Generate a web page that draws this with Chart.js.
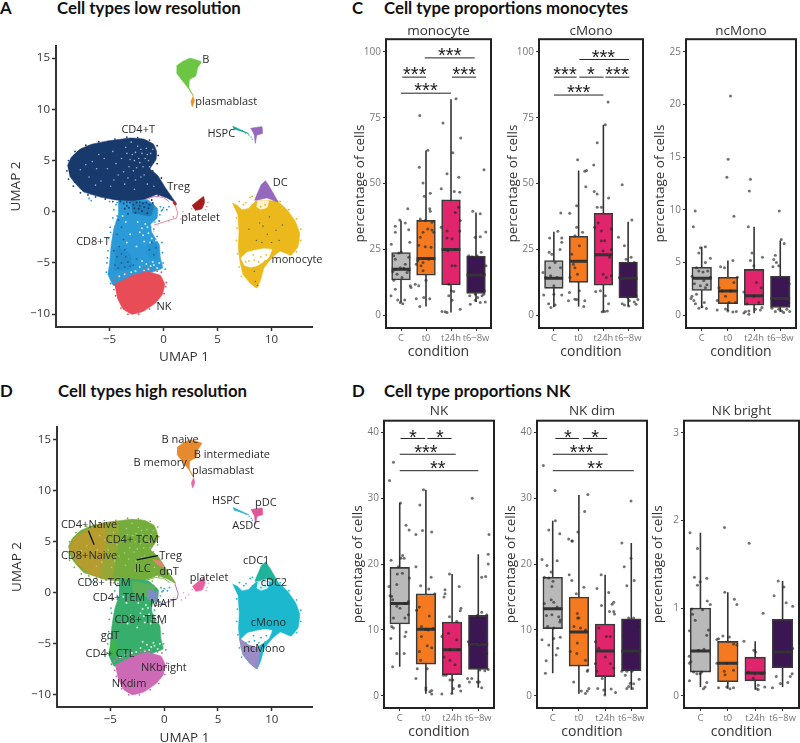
<!DOCTYPE html>
<html>
<head>
  <meta charset="utf-8">
  <title>Cell types</title>
  <script src="https://cdn.jsdelivr.net/npm/chart.js"></script>
  <style>
    html, body { margin: 0; background: #fff; overflow: hidden; width: 800px; height: 743px; }
    canvas { position: absolute; }
    .head { position: absolute; font-family: Lato, sans-serif; font-weight: 700; font-size: 16.8px; line-height: 22px; color: #111; white-space: nowrap; }
  </style>
</head>
<body>
  <div class="head" style="left:0;top:-3px">A</div>
  <div class="head" style="left:57px;top:-3px">Cell types low resolution</div>
  <div class="head" style="left:352px;top:-3px">C</div>
  <div class="head" style="left:384px;top:-3px">Cell type proportions monocytes</div>
  <div class="head" style="left:0;top:380px">D</div>
  <div class="head" style="left:58px;top:380px">Cell types high resolution</div>
  <div class="head" style="left:352px;top:380px">D</div>
  <div class="head" style="left:384px;top:380px">Cell type proportions NK</div>

  <script>
    // ---- data ----
    const conditions = ["C", "t0", "t24h", "t6−8w"];
    const boxColors = ["#b9b9b9", "#f57a1f", "#e0256d", "#3c1653"];
    const umapXTicks = [-5, 0, 5, 10];
    const umapYTicks = [-10, -5, 0, 5, 10, 15];

    // cluster outlines in UMAP units
    const cd4Outline = [[-8.9,4.5],[-8.55,5.3],[-7.75,6.1],[-6.64,6.6],[-5.25,6.9],[-3.09,7.2],[-1.85,7.1],[-0.93,6.6],[-0.65,5.9],[-0.7,5.1],[-1.25,4.2],[-0.55,3.55],[0.2,2.3],[1.08,0.93],[0.31,1.35],[-0.62,1.7],[-1.54,1.3],[-2.78,1.1],[-4.32,1.15],[-5.86,1.45],[-7.41,1.95],[-8.2,2.8],[-8.7,3.5]];
    const cd8Outline = [[-4.2,1.4],[-1.54,1.2],[-0.55,0.3],[-0.6,-0.6],[-1.2,-1.2],[-1.1,-2],[-0.4,-3.23],[-0.3,-4.5],[-0.1,-5.5],[-2.16,-6.3],[-4.63,-7.2],[-5.15,-6.1],[-5,-5.14],[-4.85,-3.23],[-4.6,-1.63],[-4.2,-0.35]];
    const cd8DarkA = [[-4.6,-5.7],[-3,-5.6],[-3.1,-4.1],[-4.4,-3.4]];
    const cd8DarkB = [[-3,1.1],[-0.9,0.7],[-1.2,-0.4],[-2.9,-0.1]];
    const cd8DarkC = [[-1.5,-3.2],[-0.6,-3],[-0.6,-4.6],[-1.4,-4.4]];
    const nkOutline = [[-4.55,-7.1],[-2.78,-6.2],[-1.54,-5.85],[-0.31,-6.2],[0.1,-7.06],[-0.1,-8.05],[-0.75,-8.9],[-1.85,-9.7],[-2.93,-10],[-3.75,-9.5],[-4.3,-8.4]];
    const monoOutline = [[6.35,0.85],[6.85,0.6],[7.25,0.2],[7.87,0.35],[8.58,1.05],[10.49,1.05],[11.42,0.2],[12.2,-0.95],[12.6,-2.1],[12.45,-3.4],[11.8,-4.25],[10.8,-3.85],[10.03,-4.5],[9.3,-5.46],[9,-6.58],[8.64,-7.45],[8,-6.95],[7.35,-6.1],[7.1,-4.98],[6.92,-3.55],[6.98,-1.95],[6.88,-0.35]];
    const monoHole = [[7.15,-4.55],[7.75,-3.95],[9.26,-3.6],[10,-3.7],[9.7,-4.5],[8.7,-5.25],[8,-5.4],[7.45,-5.2]];
    const dcGap = [[8.7,1.05],[9.7,1.05],[9.6,0.45],[9,0.25],[8.6,0.5]];
    const dcOutline = [[9.41,3.05],[9.75,2.55],[10.6,0.95],[9.57,1.35],[8.45,1.12],[8.85,2.2],[9.05,2.7]];
    const bOutline = [[1.2,14.25],[1.8,14.7],[2.47,15],[3.5,14.65],[3.15,14.05],[2.98,13.25],[2.4,12.9],[2.36,12.11],[2.75,11.31],[2.26,12.11],[1.65,12.91],[1.2,13.55]];
    const plasmaOutline = [[2.72,11.31],[2.85,10.83],[2.65,10.26],[2.52,10.83]];
    const pdcOutline = [[8.05,8.15],[9.1,8.3],[9.15,7.64],[8.64,7.48],[8.49,6.68],[8.4,7.45]];
    const hspcOutline = [[6.39,8.37],[7.1,8.02],[7.87,7.64],[7.1,7.9],[6.48,8.11]];
    const plateletOutline = [[2.62,0.61],[3.7,1.5],[3.8,0.93],[3.55,0.29],[2.93,0.13]];
    const tregTrail = [[-1.6,1.25],[-0.8,1.5],[0,1.4],[0.5,1]];
    const plateletTrail = [[1.0,0.9],[1.3,-0.1],[1.2,-0.6],[0,-1],[-0.9,-1.3]];
    const goldOutline = [[-8.85,4.3],[-8.4,5.3],[-7,6.25],[-5.6,6.75],[-5.4,5.2],[-5.6,3.8],[-6,1.6],[-6.9,1.85],[-8.1,2.85]];
    const oliveOutline = [[-5.7,6.8],[-4.3,7],[-4.2,5],[-4.5,3.4],[-4.8,1.25],[-6.1,1.5],[-5.7,3.8],[-5.5,5.2]];
    const ncMonoOutline = [[6.94,-4.41],[7.84,-5.1],[8.92,-5.5],[8.64,-7.45],[8,-6.95],[7.35,-6.1],[7.1,-5.2]];
    const maitOutline = [[-1.57,0.38],[-0.65,0.06],[-0.65,-0.89],[-1.57,-0.57]];
    const tregOutline = [[-1.1,3.26],[-0.34,3.1],[0,2.46],[-0.65,2.78]];
    const gdtOutline = [[-4.95,-4.6],[-4.4,-4.8],[-4.5,-6.3],[-5.1,-6]];

    // scattered cells
    const navySpeck = [[-6.6,4.9],[-6,5.6],[-5.2,4.2],[-4.7,5.9],[-4.2,3.6],[-3.9,5.2],[-3.5,6.3],[-3.2,4.4],[-2.9,5.6],[-2.6,3.1],[-2.4,6.4],[-2.2,4.8],[-2,5.7],[-1.8,3.6],[-1.6,6.2],[-1.4,5],[-1.2,5.7],[-2.7,2.2],[-3.6,2.7],[-4.9,2.5],[-5.8,3],[-6.9,3.4],[-7.7,4.1],[-3,6.8],[-1.9,4.4],[-1,6.1],[-2.3,5.2],[-3.4,5.7],[-4.4,4.7],[-5.5,5.2],[-2.8,4],[-1.3,4.4],[-3.7,3.9],[-2.1,3.4],[-2.5,4.3],[-2.7,5],[-3.1,5.1],[-1.7,5.2],[-1.5,5.6],[-2.1,6.1],[-2.6,5.8],[-3.3,3.3],[-1.5,2.7],[-0.9,2.5],[-4.6,3.1],[-6.3,2.6],[-7.2,4.6],[-6.2,4.2]];
    const navyFringe = [[-8.95,4],[-8.8,3.2],[-8.35,2.5],[-7.7,1.85],[-7,1.65],[-6.3,1.45],[-5.4,1.25],[-4.7,1],[-3.4,0.95],[-2.2,0.95],[-1.1,1.15],[-0.5,1.55],[-0.1,1.7],[-8.8,5],[-8.2,5.9],[-7.2,6.5],[-6,6.85],[-4.5,7.1],[-3.4,7.3],[-2.4,7.25],[-1.3,7],[-0.6,6.45],[-0.5,5.5],[-0.6,4.7],[-1,4],[-0.2,3.3]];
    const neckSpeck = [[-4,1],[-3.7,0.8],[-3.4,0.6],[-3.1,0.9],[-2.8,0.7],[-2.5,0.9],[-2.2,0.6],[-1.9,0.8],[-1.6,0.9],[-1.3,0.7],[-1,0.85],[-3.6,0.3],[-3.2,0.4],[-2.7,0.35],[-2.3,0.3],[-1.8,0.45],[-1.4,0.35],[-3.3,-0.2],[-2.6,-0.1],[-2,0.05],[-1.5,-0.15]];
    const cd8DarkSpeck = [[-4.5,-5.2],[-4.2,-5.5],[-3.9,-5],[-3.6,-5.4],[-3.3,-4.9],[-4.3,-4.4],[-3.9,-4.1],[-3.5,-4.4],[-3.1,-5.3],[-4.6,-3.8],[-4.1,-3.4],[-3.6,-3.7],[-1.3,-3.7],[-0.9,-4.2],[-0.7,-3.5],[-1.1,-3],[-4.3,-2.2],[-3.9,-1.5],[-4.2,-0.8],[-3.7,-2.7],[-2.8,-5.2],[-2.5,-4.6]];
    const cd8Speck = [[-2,-1.6],[-1.4,-2.1],[-1.1,-2.6],[-1.8,-2.9],[-0.9,-1.9],[-2.5,-3.4],[-3.5,-1],[-3.1,-2.2],[-1.2,-5.3],[-1.6,-5.1],[-0.9,-5.2],[-2,-4.8],[-3.4,-3],[-2.4,-1],[-0.7,-2.8],[-0.6,-5.5],[-2.2,-5.4],[-4.1,-6.3],[-3.6,-6.1],[-3,-5.9],[-1.7,-1.2],[-3.8,-0.4],[-0.5,-1.3],[-1.5,-1.5],[-1.9,-2.3],[-1.25,-3],[-2.2,-2],[-1,-4.9],[-1.4,-5.6],[-0.4,-5],[-1.8,-5.7],[-2.6,-5.8]];
    const cd8Fringe = [[-4.3,0.9],[-4.6,0.2],[-4.7,-0.6],[-4.95,-1.5],[-5.1,-2.6],[-5.15,-3.8],[-5.25,-5],[-5.3,-5.9],[-4.9,-7],[-0.3,0.5],[-0.35,-0.3],[-0.8,-1],[-0.9,-1.7],[-0.6,-2.4],[-0.15,-3],[-0.1,-4],[-0.05,-5],[0.15,-5.6],[-0.4,-0.9],[-0.2,0.1]];
    const fringeBlue = [[-6.9,1.3],[-6.7,1.1],[-5,1],[-4.4,0.7],[-4.3,-0.4],[-4.9,-2],[-5.2,-4.5],[0,0.4],[0.3,0.2],[-0.1,0.2],[-0.4,-0.9],[-1.2,-1.5],[0.5,0.5]];
    const fringeRed = [[-4.6,-6.7],[-4.4,-6.4],[-1.2,-5.6],[-0.6,-5.8],[-0.2,-5.9],[0.2,-7.3],[-4.6,-7.6],[-3.4,-6],[-2.8,-6.1],[-2.2,-5.8],[-4.45,-8.2],[-3.95,-9.4],[-3.3,-10],[-2.3,-10],[-1.3,-9.5],[-0.5,-8.9],[0.05,-8],[0.25,-6.9],[-3.9,-6.4],[-1.8,-5.6]];
    const monoSpeck = [[9.2,-1.4],[9.6,-2.2],[10.4,-1.8],[8.6,-2.8],[9.8,-0.5],[11,-1.3],[8.5,-6.8],[8.7,-7.2],[8.4,-5.8],[8.9,-1.1],[7.9,-1.7],[10.7,-2.8],[9.1,-3],[10,-3]];
    const monoFringe = [[7.6,0.9],[8,1.4],[8.2,0.7],[9,0.5],[9.4,0.7],[8.2,1.5],[7.9,-4.8],[8.4,-4.7],[9,-4.4],[7.6,-4.9],[9.5,-4.2],[8.8,-4.9],[6.75,-0.6],[6.8,-1.6],[6.75,-2.8],[6.85,-4.1],[7,-5.4],[7.2,-6.3],[12.7,-1.7],[12.7,-2.8],[12.3,-3.9],[12.3,-0.7],[11.6,0.2],[10.8,1],[7.4,0.7],[7,1],[9.4,-4.8],[8.3,-4.2]];
    const hspcTrail = [[7.3,7.9],[7.6,7.7],[7.9,7.5],[8.1,7.3],[8.2,7.1]];
    const plateletSpeck = [[1.6,-0.7],[2,-0.5],[2.3,-0.2],[1.8,0],[2.6,0.3],[0.9,-0.5],[0.5,-0.9],[4,0.5],[4.1,0.9],[3.9,0.2]];
    const tregKnot = [[1,0.9],[1.08,0.78]];

    const panelALabels = [["B",3.92,14.8],["plasmablast",5.8,10.73],["CD4+T",-2.35,8.05],["HSPC",5.34,7.57],["Treg",1.39,2.43],["DC",10.8,2.84],["platelet",3.43,-0.61],["CD8+T",-6.54,-2.97],["monocyte",12.35,-4.73],["NK",0.03,-9.3]];
    const panelDLabels = [["B naive",1.48,15.02],["B intermediate",6.3,13.48],["B memory",-0.37,12.68],["plasmablast",5.46,11.95],["HSPC",5.74,9.01],["pDC",9.44,8.79],["ASDC",7.62,6.55],["CD4+Naive",-6.98,6.65],["CD4+ TCM",-2.96,5.14],["CD8+Naive",-6.98,3.58],["Treg",0.59,3.58],["ILC",-1.98,2.36],["dnT",0.46,2.04],["platelet",4.17,1.47],["cDC1",8.55,3.16],["cDC2",10.2,0.93],["CD8+ TCM",-5.59,0.99],["CD4+ TEM",-4.2,-0.54],["MAIT",-0.09,-1.12],["CD8+ TEM",-2.19,-2.65],["cMono",9.69,-2.97],["gdT",-5.03,-4.25],["ncMono",9.29,-5.46],["CD4+ CTL",-5.03,-5.94],["NKbright",-0.03,-7.35],["NKdim",-3.27,-8.91]];
    const naiveLeader = [[-7.04,6.07],[-6.51,4.7]];
    const tregLeader = [[-2.56,3.23],[-0.59,3.64]];

    // box statistics, one entry per condition
    const monoLow = [4.8,3.3,1,5], monoQ1 = [13.4,15.2,11.5,8.3], monoMed = [17.5,21.5,25,15.3], monoQ3 = [23.8,36,43.8,22.5], monoHigh = [36,62.5,82,39];
    const cMonoLow = [3,3.3,1,3.3], cMonoQ1 = [10.2,12.5,11.4,6.6], cMonoMed = [14,20.5,23,14], cMonoQ3 = [20.8,30,38.7,20.2], cMonoHigh = [31.7,55,72.3,35.5];
    const ncMonoLow = [0.7,0.4,0.2,0.3], ncMonoQ1 = [2.35,1.1,0.95,0.75], ncMonoMed = [3.5,2.3,1.85,1.6], ncMonoQ3 = [4.55,3.6,4.35,3.7], ncMonoHigh = [6.5,5.2,8.4,7.1];
    const nkLow = [4.4,0.3,0.3,1.2], nkQ1 = [10.9,4.8,3.2,4], nkMed = [14,10.1,7,7.8], nkQ3 = [19.5,15.5,11.2,12.2], nkHigh = [29.3,31.3,18.5,21.5];
    const nkDimLow = [3.4,0.3,0.1,0.9], nkDimQ1 = [10.2,4.5,2.9,3.8], nkDimMed = [13.2,9.7,6.8,6.8], nkDimQ3 = [18,15,10.9,11.7], nkDimHigh = [26.6,30.5,18.4,23.2];
    const nkBrightLow = [0.1,0.08,0.07,0.1], nkBrightQ1 = [0.27,0.16,0.17,0.32], nkBrightMed = [0.51,0.37,0.26,0.5], nkBrightQ3 = [1,0.62,0.44,0.87], nkBrightHigh = [1.86,1.18,0.62,1.31];

    // individual samples: [jitter from the category centre, percentage]
    const monoC = [[-.05,36.2],[.27,40.4],[-.23,33.8],[.17,35],[.31,32.5],[-.23,31.5],[-.39,27],[.35,27.7],[.01,24],[-.09,23.6],[-.29,22.6],[.31,22],[-.23,21.3],[.17,19.4],[-.03,18],[-.23,17.5],[.11,17.8],[.31,17.1],[-.33,16.6],[.24,16.2],[-.16,15.6],[-.29,13.3],[.04,14.3],[-.23,9.9],[.37,11.2],[.4,10.5],[-.4,7.4],[-.13,5.8],[.15,5.8],[-.03,4.8],[.07,4.4]];
    const monoT0 = [[-.25,75.8],[-.27,56.2],[-.12,50.2],[.07,62.6],[.17,46.3],[-.07,45.2],[.15,40.4],[.17,39.5],[-.23,36.5],[-.03,36],[.24,35.3],[.07,32.7],[.24,32.4],[-.12,31.5],[.31,31.5],[-.23,29.6],[-.29,26.6],[-.03,26],[.2,25.8],[-.33,20.7],[-.12,20],[.11,21.3],[-.2,18.8],[-.39,19.4],[-.12,16.9],[-.43,11.8],[-.29,11.2],[0,13.3],[-.39,6.3],[-.09,6.7],[.15,6.3],[-.25,3.3]];
    const monoT24 = [[.2,82.2],[-.32,73],[.39,67.3],[.07,61.7],[-.16,53.7],[.31,52.4],[-.39,48],[.13,47],[.35,46.7],[.31,41],[.17,39],[-.39,33.4],[-.16,32],[.37,36],[.35,32],[-.16,29.3],[.04,29],[-.13,24.5],[.17,25],[.04,18.8],[.17,18.8],[-.09,11.8],[.01,9.3],[.11,9],[-.09,7.4],[.04,5.7],[.37,2.3],[-.36,1.4],[-.23,1.3],[-.16,1]];
    const monoT68 = [[.32,55.2],[-.13,39.5],[.17,38.5],[.39,31.6],[-.03,29.6],[.17,29.8],[.21,23.9],[-.29,22.6],[-.16,22.2],[.04,22.6],[.4,18.8],[-.16,16.9],[.31,15.6],[-.29,16.2],[.17,11.8],[-.16,10.5],[.33,9.3],[-.25,7.4],[-.03,8],[.24,7.4],[.31,8],[-.23,4.2],[-.03,5.7],[.17,4.8],[.37,5],[.07,6.7]];
    const cMonoC = [[.28,38.8],[.16,31.9],[-.17,29.3],[.32,29.3],[-.19,23.9],[-.08,23.2],[.32,27.7],[.25,25],[-.44,16.2],[-.17,18],[.05,20],[-.41,7.7],[-.21,4.4],[-.12,2.9],[.05,3.9],[0,8],[.32,7.7],[-.33,14.3],[.13,14.3],[-.13,15],[0,11.2],[.27,18]];
    const cMonoT0 = [[-.04,59],[.32,55],[.25,54.7],[.29,48.8],[-.08,41.6],[-.08,33.4],[.16,31.5],[-.15,30.2],[.03,26.4],[-.28,23.2],[-.15,18],[-.21,19.4],[-.05,15.6],[-.35,14.3],[.03,9.3],[-.08,6],[.25,5.5],[.21,3.3],[-.36,38.7],[-.37,8.6],[-.41,5.5],[-.15,6.1]];
    const cMonoT24 = [[.19,81],[.08,72.3],[-.25,65.5],[-.39,57],[-.37,47],[-.25,46],[.21,44.5],[-.25,41],[-.08,41],[-.21,35],[-.08,32],[.32,32.7],[-.35,33.4],[.05,28.3],[-.08,28.3],[.32,25],[-.01,24.4],[.25,22],[-.01,15.6],[.32,15],[.12,14.3],[-.31,9],[-.12,9.3],[.08,7.4],[.21,4.4],[-.05,1.3],[.05,1.4],[.16,1.6]];
    const cMonoT68 = [[-.24,49.5],[.15,36.2],[-.39,29.6],[-.15,26.4],[.12,22],[-.08,21.3],[.25,20],[-.21,19.4],[.05,18],[-.35,14.3],[.25,13.3],[-.15,12],[.05,9.9],[.19,7.4],[.32,7.4],[-.01,6.6],[-.24,4.4],[-.15,3.9],[.39,6],[.32,4.2],[.25,5],[.05,5.5],[.03,3.5]];
    const ncMonoCPts = [[-.25,9.9],[-.32,8.4],[.14,6.5],[-.05,6.4],[-.11,5.9],[.33,5.4],[.14,5],[-.2,4.5],[.23,4.2],[-.11,4.2],[.05,4.1],[-.37,3.7],[.33,3.6],[.08,3.3],[-.28,3],[.2,2.9],[-.05,2.8],[.14,2.6],[-.37,1.8],[-.2,2],[-.41,1.6],[-.3,1.4],[-.24,1.1],[.1,1.2],[-.11,.67],[.18,.63],[.01,.8]];
    const ncMonoT0 = [[.1,20.8],[.01,14.8],[-.04,13.1],[.23,9.4],[.19,5.2],[-.28,4.6],[-.13,4.5],[-.34,2.6],[.36,3.6],[.23,3.1],[.1,2.3],[-.09,1.8],[-.22,2.3],[-.41,1.4],[.04,1.2],[.29,1.2],[-.41,.5],[-.09,.6],[0,.4],[.19,.3],[.32,.35]];
    const ncMonoT24 = [[-.14,12.9],[-.18,11.8],[-.22,8.4],[-.08,5.9],[.32,5.5],[-.14,5.2],[-.01,4.7],[.09,3.1],[.27,2.6],[-.39,2.2],[-.01,1.8],[-.27,1.1],[.18,1.2],[.3,.73],[.05,.57],[.24,.5],[-.33,.35],[-.2,.4],[-.2,.1],[-.39,.22]];
    const ncMonoT68 = [[-.04,9.9],[.04,7.2],[.15,6.8],[-.19,5.7],[-.25,5.3],[-.15,5],[-.28,4.6],[-.06,4.7],[.25,3.4],[.34,3],[-.13,2.6],[.13,2],[-.25,1.4],[.32,1.2],[-.32,.67],[-.06,.57],[.06,.4],[-.19,.35],[.36,.35],[.13,.25],[.25,.57]];
    const nkC = [[-.24,35.5],[-.39,32.7],[.03,29.3],[.24,25.9],[.36,25.2],[-.33,20.6],[.11,21.3],[.17,20.9],[.05,20.9],[-.05,19.6],[.1,18.6],[-.09,18.5],[.37,17.9],[-.41,16.6],[-.11,16.9],[-.37,15.2],[-.31,15.1],[-.27,14.6],[.33,14.3],[.2,14],[-.11,13.6],[.01,13.3],[.33,12.3],[-.24,11.8],[.2,11.8],[-.31,10.5],[-.24,10.3],[-.34,8.7],[.2,9],[.24,9.7],[-.11,6.4],[.17,6.4],[-.27,4.4]];
    const nkT0 = [[-.09,31.3],[-.23,29],[-.13,25.1],[.22,24.9],[-.38,24.5],[-.38,19.6],[.2,18],[-.2,16.7],[.11,16.2],[.34,15.5],[-.25,13.5],[-.36,13],[.13,12.1],[-.17,10.5],[-.01,10.1],[.09,10],[.28,10.2],[-.17,9],[.05,7.6],[.22,7.3],[-.25,6.7],[-.2,5.4],[-.33,4.1],[-.38,2.6],[.05,4.1],[0,1.2],[.15,.6],[.22,.8],[.22,.25],[0,.9]];
    const nkT24 = [[-.1,18.5],[.27,16.6],[-.27,16.1],[-.27,15.5],[-.31,15],[.34,13.3],[.31,12.9],[-.1,12],[.18,11.3],[-.39,9],[-.14,9.5],[.18,8.5],[-.08,7],[.24,7],[-.31,5.9],[-.08,5.4],[.11,4.7],[-.33,3.1],[-.23,3.1],[-.08,2.4],[.03,2.4],[.28,1.6],[.05,1.1],[.33,.7],[.27,1.4],[-.39,.25],[-.01,.35]];
    const nkT68 = [[-.23,30],[.41,24.5],[.38,21.5],[.38,20],[.13,18],[.28,18.1],[.13,12.7],[.32,12.3],[-.04,12.2],[-.25,11],[.25,9.5],[-.19,9.3],[-.38,8.2],[-.13,7.5],[.06,8],[.32,6.4],[.19,5.4],[.06,3.9],[.25,3.8],[.38,4],[-.41,2.6],[-.25,2.6],[-.34,2.1],[-.04,2.1],[.13,1.2],[.04,2.1]];
    const nkDimC = [[-.36,35],[.09,31.2],[.1,26.6],[-.15,25.2],[.27,24.6],[-.41,20.7],[.17,20.5],[-.22,19.8],[-.06,18.8],[-.32,18],[-.15,17.9],[.01,17.4],[-.03,16.6],[-.06,14.6],[.04,14.2],[-.32,14],[.17,13.5],[.23,12],[-.03,12.3],[-.24,12.2],[.29,11.5],[.27,11.2],[-.19,10.5],[.04,10.3],[-.41,8.5],[.29,8.9],[.04,8.7],[-.15,7.7],[.19,7.2],[.13,6.2],[-.25,5.3],[-.28,3.4]];
    const nkDimT0 = [[.34,30.6],[.22,28],[-.04,24.9],[-.25,23.5],[-.39,23.8],[-.27,23.5],[-.37,18.4],[-.27,17.5],[-.1,15.5],[-.05,11.8],[.19,16.5],[-.06,12.5],[0,11.8],[-.19,10.5],[.06,10.3],[.25,10],[-.06,8],[.25,5.4],[.32,3.7],[.34,3.9],[.38,1.1],[.32,.7],[.09,.7],[.25,.35],[-.2,2.1],[-.33,6.7],[-.08,6.4]];
    const nkDimT24 = [[-.15,18.4],[-.31,16.3],[.14,15.7],[.33,14.2],[.27,13.9],[-.14,13.7],[.33,12.8],[.17,12.8],[.36,12.4],[.2,9],[-.24,10.3],[.05,9],[-.37,8.2],[-.24,7.2],[.01,5.9],[.2,4.9],[-.37,4.9],[-.31,3.7],[.33,4.2],[-.11,2.6],[.23,1],[-.05,.86],[-.01,.1],[.4,.5],[-.28,1.1]];
    const nkDimT68 = [[-.01,29.6],[-.36,23.2],[-.01,20.9],[-.27,19.6],[.11,17.5],[-.17,16.7],[-.1,11.8],[.09,11.8],[.28,10.5],[-.29,9],[-.04,7.5],[.15,6.4],[-.36,3.7],[-.17,3.7],[.03,3.7],[-.23,3.1],[.3,2.5],[-.04,1.9],[.09,1.8],[-.1,1.4],[.05,1.1],[-.17,1.1]];
    const nkBrightC = [[-.38,1.86],[-.11,1.68],[-.22,1.35],[.23,1.34],[-.01,1.3],[-.11,1.26],[.25,1.08],[.36,1.04],[-.31,.99],[.08,.98],[-.29,.93],[-.19,.86],[.29,.75],[-.4,.74],[.23,.69],[.13,.53],[-.07,.52],[-.41,.45],[-.35,.39],[-.4,.37],[-.25,.27],[-.13,.25],[-.01,.25],[.05,.27],[-.4,.17],[.23,.15],[.17,.1],[.11,.08]];
    const nkBrightT0 = [[-.12,1.92],[-.11,1.18],[.24,1.1],[.33,1.04],[-.18,.68],[-.34,.65],[-.4,.64],[.06,.67],[.21,.59],[.33,.58],[-.04,.37],[-.4,.37],[-.13,.28],[-.1,.24],[.21,.29],[-.34,.09],[-.04,.1],[.08,.08],[.21,.09]];
    const nkBrightT24 = [[-.22,1.74],[.29,.94],[-.41,.62],[-.05,.52],[.02,.5],[-.25,.27],[-.01,.25],[.23,.25],[.11,.12],[.35,.1],[.05,.08],[.11,.07],[-.07,.2]];
    const nkBrightT68 = [[-.16,1.31],[.05,1.24],[-.31,1.14],[.13,1.06],[.37,1.02],[.01,.83],[-.23,.62],[.37,.54],[.01,.41],[.35,.25],[-.23,.22],[.28,.22],[.19,.15],[-.08,.14],[-.37,.09]];

    // significance bars: [from, to, height]; stars: [text, x, y]
    const monoBars = [[1.95,3.95,97.7],[1.05,2,90.4],[3.04,4,90.4],[1,3,84.3]];
    const monoStars = [["***",2.95,100],["***",1.55,92.8],["***",3.53,92.8],["***",2,87]];
    const cMonoBars = [[2.03,4.03,97.1],[1,1.92,90.4],[2.03,3.01,90.4],[3.08,4.05,90.4],[1,3,83.6]];
    const cMonoStars = [["***",3,99.5],["***",1.45,92.8],["*",2.5,92.8],["***",3.55,92.8],["***",2,86]];
    const nkBars = [[1.03,1.97,39.1],[2.06,2.98,39.1],[1,3.14,36.7],[1,4,34.2]];
    const nkStars = [["*",1.5,39.9],["*",2.53,39.9],["***",2,37.6],["**",2.45,35.1]];
    const nkDimBars = [[1.1,2,39.1],[2.15,3.08,39.1],[1,3.1,36.7],[1,4.1,34.2]];
    const nkDimStars = [["*",1.58,39.9],["*",2.62,39.9],["***",2.1,37.6],["**",2.62,35.1]];

    // ---- helpers ----
    const pts = list => list.map(p => ({x: p[0], y: p[1]}));
    const minus = v => String(v).replace("-", "−");
    const BODY_FONT = "'Open Sans', sans-serif";

    function addCanvas(left, top, w, h) {
      const c = document.createElement("canvas");
      c.width = w;
      c.height = h;
      c.style.left = left + "px";
      c.style.top = top + "px";
      document.body.appendChild(c);
      return c.getContext("2d");
    }

    function labelPlugin(items, font, color, dy) {
      return {
        id: "textLabels",
        afterDatasetsDraw(chart) {
          const ctx = chart.ctx;
          ctx.save();
          ctx.font = font;
          ctx.fillStyle = color;
          ctx.textAlign = "center";
          ctx.textBaseline = "middle";
          items.forEach(it => {
            ctx.fillText(it[0], chart.scales.x.getPixelForValue(it[1]), chart.scales.y.getPixelForValue(it[2]) + dy);
          });
          ctx.restore();
        }
      };
    }

    const framePlugin = {
      id: "frame",
      afterDatasetsDraw(chart) {
        const a = chart.chartArea, ctx = chart.ctx;
        ctx.save();
        ctx.strokeStyle = "#222";
        ctx.lineWidth = 2;
        ctx.strokeRect(a.left, a.top, a.right - a.left, a.bottom - a.top);
        ctx.restore();
      }
    };

    function shape(list, color) {
      return {type: "scatter", showLine: true, data: pts(list), fill: "shape", backgroundColor: color, borderColor: color, borderWidth: 0.6, pointRadius: 0, tension: 0.1};
    }
    function trail(list, color, width) {
      return {type: "scatter", showLine: true, data: pts(list), borderColor: color, backgroundColor: color, borderWidth: width, pointRadius: 0, fill: false};
    }
    function specks(list, color, radius) {
      return {type: "scatter", data: pts(list), backgroundColor: color, borderWidth: 0, pointRadius: radius || 0.9};
    }

    function umapChart(cfg) {
      const lm = 56, bm = cfg.bottomMargin, rm = 50, tm = 4;
      const w = cfg.right - cfg.left, h = cfg.bottom - cfg.top;
      const ctx = addCanvas(cfg.left - lm, cfg.top - tm, lm + w + rm, tm + h + bm);
      const layers = cfg.layers.map((d, i) => Object.assign({order: -i}, d));
      new Chart(ctx, {
        type: "scatter",
        data: {datasets: layers},
        options: {
          responsive: false,
          animation: false,
          events: [],
          layout: {autoPadding: false, padding: {top: tm, right: rm, left: 0, bottom: 0}},
          plugins: {legend: {display: false}, tooltip: {enabled: false}},
          scales: {
            x: {
              type: "linear", min: cfg.xMin, max: cfg.xMax,
              afterBuildTicks: s => { s.ticks = umapXTicks.map(v => ({value: v})); },
              afterFit: s => { s.height = bm; },
              grid: {display: true, drawOnChartArea: false, tickLength: 4, tickColor: "#333", tickWidth: 1.5},
              border: {display: true, color: "#333", width: 2},
              ticks: {color: "#333", font: {family: BODY_FONT, size: 11.5}, padding: 2, maxRotation: 0, callback: minus},
              title: {display: true, text: "UMAP 1", color: "#333", font: {family: BODY_FONT, size: 13.5}, padding: 0}
            },
            y: {
              type: "linear", min: cfg.yMin, max: cfg.yMax,
              afterBuildTicks: s => { s.ticks = umapYTicks.map(v => ({value: v})); },
              afterFit: s => { s.width = lm; },
              grid: {display: true, drawOnChartArea: false, tickLength: 4, tickColor: "#333", tickWidth: 1.5},
              border: {display: true, color: "#333", width: 2},
              ticks: {color: "#333", font: {family: BODY_FONT, size: 11.5}, padding: 2, callback: minus},
              title: {display: true, text: "UMAP 2", color: "#333", font: {family: BODY_FONT, size: 13.5}, padding: {top: 8, bottom: 0}}
            }
          }
        },
        plugins: [labelPlugin(cfg.labels, "11px " + BODY_FONT, "#2a2a2a", 0)]
      });
    }

    function boxChart(cfg) {
      const lm = 36, bm = 32, rm = 3, titleH = 16.2 + cfg.titlePadTop + cfg.titlePadBottom;
      const w = cfg.right - cfg.left, h = cfg.bottom - cfg.top;
      const ctx = addCanvas(cfg.left - lm, cfg.top - titleH, lm + w + rm, Math.ceil(titleH + h + bm));
      const unit = w / 4.2;
      const sample = cfg.samples.flatMap((list, i) => list.map(p => ({x: i + 1 + p[0], y: p[1]})));
      const whiskers = [], medians = [];
      conditions.forEach((c, i) => {
        whiskers.push({x: i + 1, y: cfg.low[i]}, {x: i + 1, y: cfg.high[i]}, {x: i + 1, y: null});
        medians.push({x: i + 0.625, y: cfg.med[i]}, {x: i + 1.375, y: cfg.med[i]}, {x: i + 1, y: null});
      });
      const barLines = [];
      (cfg.bars || []).forEach(b => barLines.push({x: b[0], y: b[2]}, {x: b[1], y: b[2]}, {x: b[0], y: null}));
      const datasets = [
        {type: "scatter", data: sample, backgroundColor: "rgba(40,40,40,0.65)", borderWidth: 0, pointRadius: 1.5, order: 1},
        {type: "scatter", showLine: true, data: medians, borderColor: "#333", borderWidth: 3, pointRadius: 0, spanGaps: false, order: 2},
        {type: "bar", data: conditions.map((c, i) => ({x: i + 1, y: [cfg.q1[i], cfg.q3[i]]})), backgroundColor: boxColors, borderColor: "#3a3a3a", borderWidth: 1.6, borderSkipped: false, barThickness: unit * 0.75, order: 3},
        {type: "scatter", showLine: true, data: whiskers, borderColor: "#333", borderWidth: 1.6, pointRadius: 0, spanGaps: false, order: 4},
        {type: "scatter", showLine: true, data: barLines, borderColor: "#222", borderWidth: 1, pointRadius: 0, spanGaps: false, order: 0}
      ];
      new Chart(ctx, {
        type: "scatter",
        data: {datasets: datasets},
        options: {
          responsive: false,
          animation: false,
          events: [],
          layout: {autoPadding: false, padding: {top: 0, right: rm, left: 0, bottom: 0}},
          plugins: {
            legend: {display: false},
            tooltip: {enabled: false},
            title: {display: true, fullSize: false, text: cfg.name, color: "#333", font: {family: BODY_FONT, size: 13.5, weight: "normal"}, padding: {top: cfg.titlePadTop, bottom: cfg.titlePadBottom}}
          },
          scales: {
            x: {
              type: "linear", min: 0.4, max: 4.6, offset: false,
              afterBuildTicks: s => { s.ticks = [1, 2, 3, 4].map(v => ({value: v})); },
              afterFit: s => { s.height = bm; },
              grid: {display: true, offset: false, drawOnChartArea: false, tickLength: 3, tickColor: "#333"},
              border: {display: false},
              ticks: {color: "#777", font: {family: BODY_FONT, size: 9.4}, padding: 2, maxRotation: 0, autoSkip: false, callback: v => conditions[v - 1]},
              title: {display: true, text: "condition", color: "#333", font: {family: BODY_FONT, size: 14}, padding: 0}
            },
            y: {
              type: "linear", min: cfg.yMin, max: cfg.yMax,
              afterBuildTicks: s => { s.ticks = cfg.yTicks.map(v => ({value: v})); },
              afterFit: s => { s.width = lm; },
              grid: {display: true, drawOnChartArea: false, tickLength: 3, tickColor: "#333"},
              border: {display: false},
              ticks: {color: "#777", font: {family: BODY_FONT, size: 10}, padding: 2},
              title: {display: true, text: "percentage of cells", color: "#333", font: {family: BODY_FONT, size: 13.5}, padding: {top: 2, bottom: 0}}
            }
          }
        },
        plugins: [framePlugin, labelPlugin(cfg.stars || [], "20px 'Liberation Sans', sans-serif", "#222", 5)]
      });
    }

    // ---- panels ----
    umapChart({
      left: 56, right: 312, top: 40.7, bottom: 327, bottomMargin: 38, xMin: -9.96, xMax: 13.74, yMin: -11.25, yMax: 16.2,
      labels: panelALabels,
      layers: [
        specks(fringeBlue, "#2a9bd8"), specks(cd8Fringe, "#2a9bd8"), shape(cd8Outline, "#2a9bd8"), shape(cd8DarkA, "#2690cf"), shape(cd8DarkB, "#1f7db8"), shape(cd8DarkC, "#2794d2"),
        specks(cd8Speck, "#cfe6f4", 1), specks(cd8DarkSpeck, "#1d5f96", 0.9), specks(fringeRed, "#e8505b"), shape(nkOutline, "#e84c56"),
        specks(navyFringe, "#17396c"), shape(cd4Outline, "#17396c"), specks(neckSpeck, "#17396c", 1), specks(navySpeck, "#9fb2cb", 0.8),
        shape(monoOutline, "#ecb91c"), shape(monoHole, "#ffffff"), shape(dcGap, "#fdf3d0"), specks(monoFringe, "#ecb91c"), specks(monoSpeck, "#5f6d5a", 0.8), shape(dcOutline, "#9568bd"),
        shape(bOutline, "#6cc644"), shape(plasmaOutline, "#f0921e"), shape(pdcOutline, "#9568bd"), shape(hspcOutline, "#14a098"), specks(hspcTrail, "#14a098", 0.7),
        shape(plateletOutline, "#a61c1c"), specks(plateletSpeck, "#e88a94", 0.8),
        trail(tregTrail, "#e77ab5", 1), trail(plateletTrail, "#e98a97", 1), specks(tregKnot, "#c8202c", 1.6)
      ]
    });

    umapChart({
      left: 56.7, right: 312, top: 421.7, bottom: 707.3, bottomMargin: 39, xMin: -9.96, xMax: 13.74, yMin: -11.19, yMax: 16.25,
      labels: panelDLabels,
      layers: [
        specks(navyFringe, "#86ad3e"), shape(cd4Outline, "#74ad3c"), shape(oliveOutline, "#96a736"), shape(goldOutline, "#b69c2e"), shape(tregOutline, "#e8806e"),
        specks(cd8Fringe, "#38ae6c"), shape(cd8Outline, "#38ae6c"), shape(cd8DarkB, "#5db05a"), shape(maitOutline, "#7b8fbe"), shape(gdtOutline, "#3bb54c"),
        specks(cd8Speck, "#d8efdf", 1), specks(fringeRed, "#cf6db5"), shape(nkOutline, "#cd6ab5"), specks(navySpeck, "#a9cf86", 0.8),
        shape(monoOutline, "#1cb8cd"), shape(monoHole, "#ffffff"), shape(ncMonoOutline, "#9b8cc6"), shape(dcGap, "#d8f3f6"), specks(monoFringe, "#1cb8cd"), shape(dcOutline, "#1fb39c"),
        shape(bOutline, "#e58a2e"), shape(plasmaOutline, "#e56ba8"), shape(pdcOutline, "#e0569b"), shape(hspcOutline, "#2ea8df"), specks(hspcTrail, "#2ea8df", 0.7),
        shape(plateletOutline, "#ea5fa0"), specks(plateletSpeck, "#ef9ac2", 0.8),
        trail(tregTrail, "#7cc24a", 1), trail(plateletTrail, "#b070c0", 1), specks(fringeBlue, "#2ea8df"),
        trail(naiveLeader, "#111", 1.3), trail(tregLeader, "#111", 1.3)
      ]
    });

    const monoTop = {top: 39, bottom: 327, titlePadTop: 4, titlePadBottom: 0};
    const nkTop = {top: 421, bottom: 708, titlePadTop: 4, titlePadBottom: 1.5};
    const pctTicks = [0, 25, 50, 75, 100];
    const nkTicks = [0, 10, 20, 30, 40];

    boxChart({...monoTop, name: "monocyte", left: 385.7, right: 490.7, yMin: -4.84, yMax: 104.8, yTicks: pctTicks, low: monoLow, q1: monoQ1, med: monoMed, q3: monoQ3, high: monoHigh, samples: [monoC, monoT0, monoT24, monoT68], bars: monoBars, stars: monoStars});
    boxChart({...monoTop, name: "cMono", left: 538.7, right: 643, yMin: -4.84, yMax: 104.8, yTicks: pctTicks, low: cMonoLow, q1: cMonoQ1, med: cMonoMed, q3: cMonoQ3, high: cMonoHigh, samples: [cMonoC, cMonoT0, cMonoT24, cMonoT68], bars: cMonoBars, stars: cMonoStars});
    boxChart({...monoTop, name: "ncMono", left: 685.7, right: 795.7, yMin: -1.21, yMax: 26.2, yTicks: [0, 5, 10, 15, 20, 25], low: ncMonoLow, q1: ncMonoQ1, med: ncMonoMed, q3: ncMonoQ3, high: ncMonoHigh, samples: [ncMonoCPts, ncMonoT0, ncMonoT24, ncMonoT68]});
    boxChart({...nkTop, name: "NK", left: 384, right: 494, yMin: -1.87, yMax: 41.8, yTicks: nkTicks, low: nkLow, q1: nkQ1, med: nkMed, q3: nkQ3, high: nkHigh, samples: [nkC, nkT0, nkT24, nkT68], bars: nkBars, stars: nkStars});
    boxChart({...nkTop, name: "NK dim", left: 536.7, right: 646.7, yMin: -1.87, yMax: 41.8, yTicks: nkTicks, low: nkDimLow, q1: nkDimQ1, med: nkDimMed, q3: nkDimQ3, high: nkDimHigh, samples: [nkDimC, nkDimT0, nkDimT24, nkDimT68], bars: nkDimBars, stars: nkDimStars});
    boxChart({...nkTop, name: "NK bright", left: 683.7, right: 799, yMin: -0.14, yMax: 3.137, yTicks: [0, 1, 2, 3], low: nkBrightLow, q1: nkBrightQ1, med: nkBrightMed, q3: nkBrightQ3, high: nkBrightHigh, samples: [nkBrightC, nkBrightT0, nkBrightT24, nkBrightT68]});
  </script>
</body>
</html>
